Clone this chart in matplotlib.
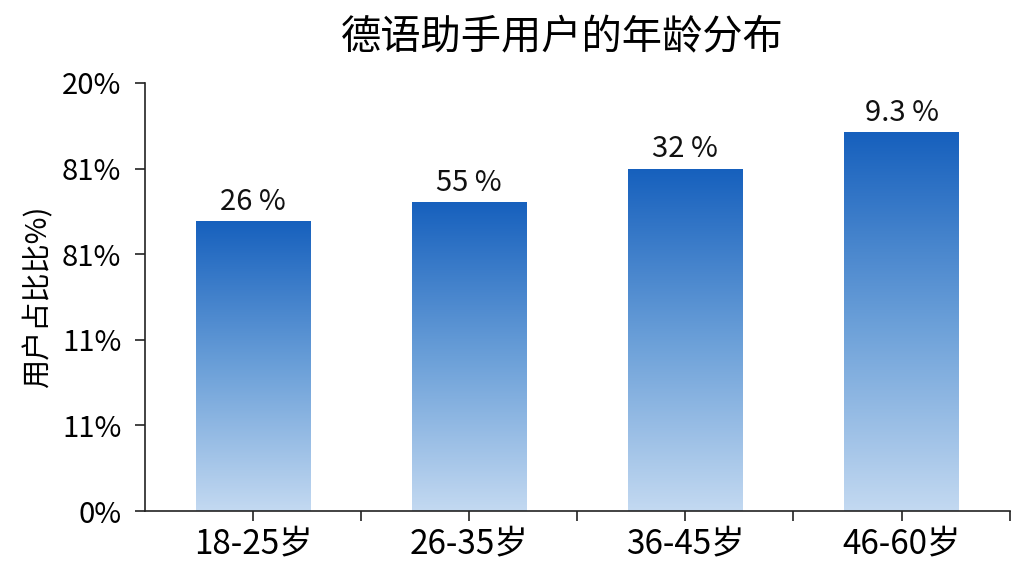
import numpy as np
import matplotlib.pyplot as plt
from matplotlib.colors import LinearSegmentedColormap

plt.rcParams['font.family'] = ['Noto Sans CJK SC', 'DejaVu Sans']

# data
categories = ["18-25岁", "26-35岁", "36-45岁", "46-60岁"]
bar_heights = [13.55, 14.45, 16.0, 17.7]
bar_labels = ["26 %", "55 %", "32 %", "9.3 %"]
y_ticks = [0, 4, 8, 12, 16, 20]
y_tick_labels = ["0%", "11%", "11%", "81%", "81%", "20%"]

fig = plt.figure(figsize=(10.24, 5.76), dpi=100)
ax = fig.add_axes([0.1416, 0.1128, 0.8444, 0.7432])

cmap = LinearSegmentedColormap.from_list("bluegrad", ["#c3d9f1", "#6a9fd8", "#1660bd"])
grad = np.linspace(0, 1, 256).reshape(-1, 1)

x = np.arange(len(categories))
bars = ax.bar(x, bar_heights, width=0.53, color="none", edgecolor="none")
for b in bars:
    x0, w, h = b.get_x(), b.get_width(), b.get_height()
    im = ax.imshow(grad, cmap=cmap, aspect="auto", origin="lower",
                   extent=[x0, x0 + w, 0, h], zorder=2)
    im.set_clip_path(b)

for xi, h, lab in zip(x, bar_heights, bar_labels):
    ax.annotate(lab, (xi, h), xytext=(0, 3), textcoords="offset points",
                ha="center", va="bottom", fontsize=21, color="#111111")

ax.set_xlim(-0.5, 3.5)
ax.set_ylim(0, 20)
ax.set_xticks(x)
ax.set_xticklabels(categories, fontsize=24)
ax.set_xticks([0.5, 1.5, 2.5, 3.5], minor=True)
ax.tick_params(axis="x", which="both", length=7, width=1.2, color="#222222", pad=4)
ax.set_yticks(y_ticks)
ax.set_yticklabels(y_tick_labels, fontsize=21)
ax.tick_params(axis="y", length=7, width=1.2, color="#222222", pad=10)

for s in ["top", "right"]:
    ax.spines[s].set_visible(False)
for s in ["left", "bottom"]:
    ax.spines[s].set_linewidth(1.2)
    ax.spines[s].set_color("#222222")

ax.set_ylabel("用户占比比%)", fontsize=21, labelpad=6)
fig.text(0.549, 0.935, "德语助手用户的年龄分布", ha="center", va="center", fontsize=29)

fig.savefig("out.png", dpi=100, facecolor="white")
